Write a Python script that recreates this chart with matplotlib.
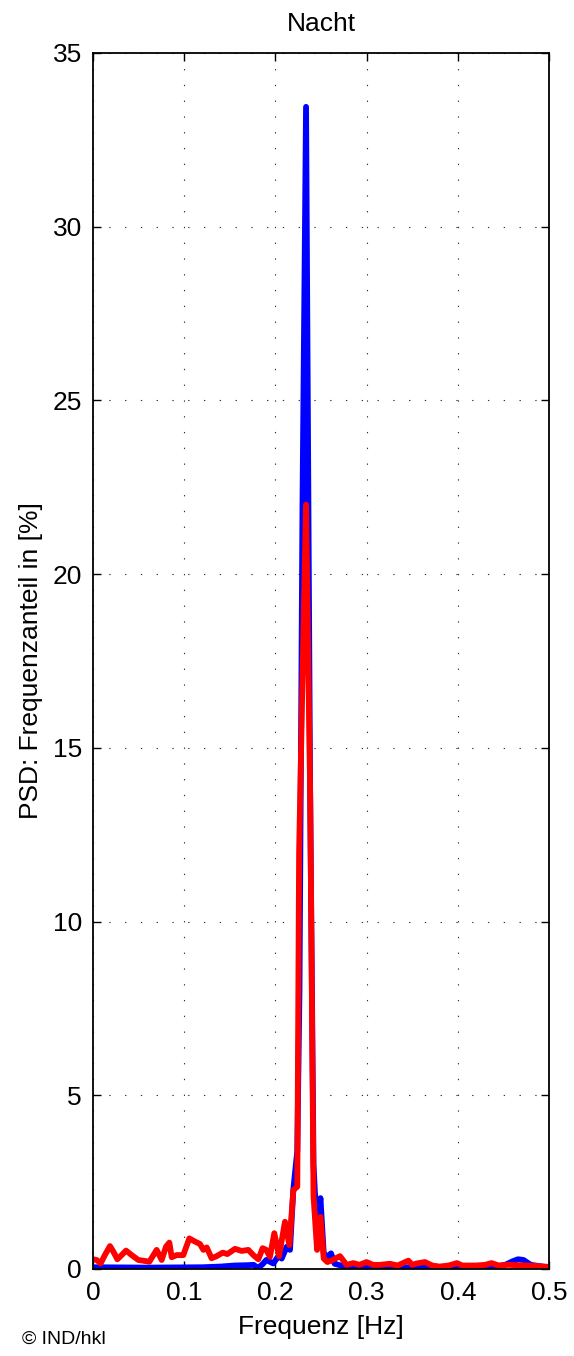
#!/usr/bin/env python3
"""
PSD plot: night-time frequency share, two recordings
"""

import matplotlib
matplotlib.use("Agg")
import matplotlib.pyplot as plt

# blue trace
blue_freq = [0.0, 0.06, 0.12, 0.14, 0.155, 0.170, 0.176, 0.181, 0.186, 0.190,
             0.1977, 0.2032, 0.2069, 0.2124, 0.216, 0.2197, 0.2240, 0.2264,
             0.2297, 0.2336, 0.2380, 0.2418, 0.2457, 0.2494, 0.2530, 0.2570,
             0.2610, 0.2650, 0.272, 0.28, 0.30, 0.35, 0.40, 0.44, 0.452, 0.46,
             0.466, 0.472, 0.48, 0.49, 0.5]
blue_psd = [0.05, 0.04, 0.05, 0.07, 0.10, 0.11, 0.12, 0.03, 0.14, 0.26,
            0.16, 0.37, 0.30, 0.64, 0.55, 2.3, 3.4, 8.0,
            22.0, 33.45, 14.0, 3.0, 1.0, 2.04, 0.45, 0.35,
            0.45, 0.15, 0.10, 0.05, 0.04, 0.05, 0.05, 0.06, 0.12, 0.22,
            0.28, 0.26, 0.12, 0.08, 0.04]

# red trace
red_freq = [0.0, 0.004, 0.0084, 0.013, 0.0186, 0.0223, 0.0267, 0.0314, 0.0362,
            0.0424, 0.0497, 0.057, 0.0618, 0.0698, 0.0753, 0.080, 0.0837,
            0.0863, 0.0917, 0.099, 0.1056, 0.1118, 0.1173, 0.121, 0.1247,
            0.130, 0.1356, 0.1422, 0.1473, 0.1557, 0.163, 0.1703, 0.1758,
            0.1813, 0.186, 0.190, 0.194, 0.1988, 0.204, 0.2105, 0.2153,
            0.2197, 0.2240, 0.2260, 0.2297, 0.2336, 0.2382, 0.2418, 0.2457,
            0.2494, 0.2530, 0.2570, 0.2620, 0.2708, 0.278, 0.2855, 0.292,
            0.300, 0.307, 0.3147, 0.3257, 0.334, 0.3458, 0.350, 0.355, 0.364,
            0.372, 0.380, 0.390, 0.399, 0.405, 0.42, 0.43, 0.437, 0.445,
            0.455, 0.465, 0.475, 0.485, 0.5]
red_psd = [0.28, 0.26, 0.16, 0.40, 0.66, 0.50, 0.28, 0.40, 0.53,
           0.40, 0.26, 0.23, 0.21, 0.55, 0.26, 0.64, 0.76,
           0.34, 0.40, 0.40, 0.88, 0.79, 0.72, 0.55, 0.62,
           0.31, 0.37, 0.47, 0.43, 0.58, 0.52, 0.55, 0.40,
           0.28, 0.60, 0.55, 0.35, 1.03, 0.37, 1.36, 0.69,
           2.27, 2.37, 12.0, 17.0, 22.0, 13.5, 2.1, 0.55,
           1.5, 0.30, 0.20, 0.25, 0.37, 0.12, 0.17, 0.12,
           0.20, 0.12, 0.12, 0.15, 0.10, 0.24, 0.12, 0.16, 0.20,
           0.10, 0.07, 0.10, 0.17, 0.10, 0.10, 0.12, 0.17, 0.10,
           0.12, 0.11, 0.10, 0.09, 0.06]

x_ticks = [0, 0.1, 0.2, 0.3, 0.4, 0.5]
x_tick_labels = ["0", "0.1", "0.2", "0.3", "0.4", "0.5"]
y_ticks = [0, 5, 10, 15, 20, 25, 30, 35]

plt.rcParams['font.family'] = ['Liberation Sans', 'DejaVu Sans']

fig = plt.figure(figsize=(5.74, 13.56), dpi=100)
ax = fig.add_axes([93 / 574, 1 - 1269 / 1356, 456 / 574, 1216 / 1356])

ax.plot(blue_freq, blue_psd, color='#0000ff', lw=4.2,
        solid_capstyle='round', solid_joinstyle='round')
ax.plot(red_freq, red_psd, color='#ff0000', lw=4.2,
        solid_capstyle='round', solid_joinstyle='round')

ax.set_xlim(0, 0.5)
ax.set_ylim(0, 35)
ax.set_xticks(x_ticks)
ax.set_xticklabels(x_tick_labels)
ax.set_yticks(y_ticks)

ax.grid(True, color='#333333', linestyle=(0, (1.2, 13)), linewidth=0.8)
for s in ax.spines.values():
    s.set_linewidth(1.3)
ax.tick_params(direction='in', length=6, width=1, top=True, right=True,
               labelsize=19)
ax.tick_params(axis='x', pad=9)
ax.tick_params(axis='y', pad=8)

ax.set_title("Nacht", fontsize=19, pad=16)
ax.set_xlabel("Frequenz [Hz]", fontsize=19, labelpad=7)
ax.set_ylabel("PSD: Frequenzanteil in [%]", fontsize=19, labelpad=7)

fig.text(22 / 574, 1 - 1344 / 1356, "\u00a9 IND/hkl", fontsize=14,
         ha='left', va='baseline')

fig.savefig("out.png", dpi=100)
